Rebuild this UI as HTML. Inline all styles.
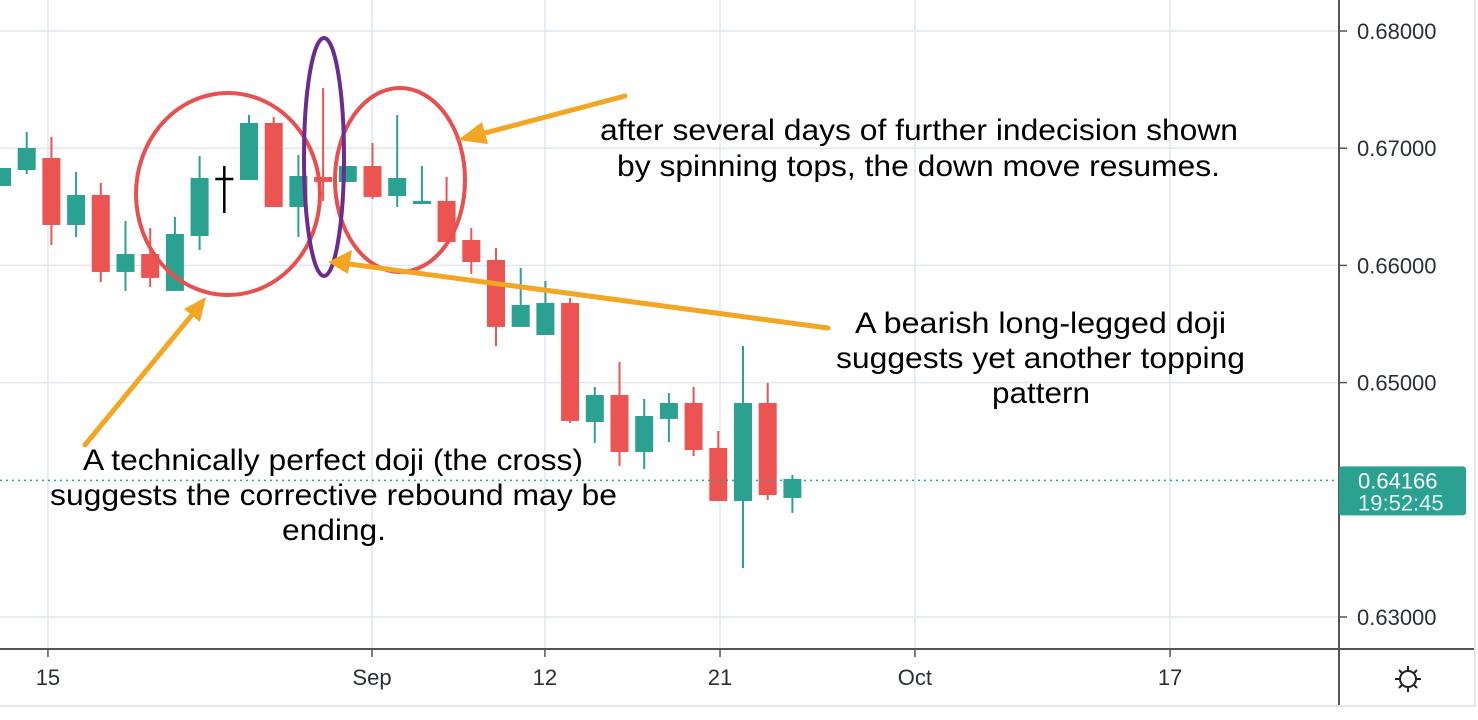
<!DOCTYPE html>
<html><head><meta charset="utf-8"><style>
html,body{margin:0;padding:0;background:#fff;}
svg{display:block;font-family:"Liberation Sans",Arial,sans-serif;}
</style></head><body>
<svg id="chart" width="1478" height="720" viewBox="0 0 1478 720" xmlns="http://www.w3.org/2000/svg">
<g id="grid"></g>
<g id="candles"></g>
<line id="lastline" x1="0" x2="1339" stroke="#26a69a" stroke-width="1.5" stroke-dasharray="2,4"/>
<g fill="none">
<ellipse cx="228" cy="194" rx="92" ry="101" stroke="#e8504f" stroke-width="4"/>
<ellipse cx="400" cy="180" rx="65" ry="92" stroke="#e8504f" stroke-width="4"/>
<ellipse cx="324" cy="157" rx="20" ry="119" stroke="#6a2c91" stroke-width="4"/>
<g stroke="#f2a623" stroke-width="5" stroke-linecap="round">
<line x1="625" y1="96" x2="470" y2="137"/>
<line x1="828" y1="328" x2="342" y2="263"/>
<line x1="85" y1="445" x2="196" y2="310"/>
</g>
<g fill="#f2a623">
<polygon points="458,140 482,122 488,144"/>
<polygon points="328,262 352,250 348,274"/>
<polygon points="206,297 200,322 184,309"/>
</g>
</g>
<g font-size="30" fill="#000" text-anchor="start">
<text x="600" y="140" textLength="638" lengthAdjust="spacingAndGlyphs">after several days of further indecision shown</text>
<text x="617" y="176" textLength="603" lengthAdjust="spacingAndGlyphs">by spinning tops, the down move resumes.</text>
<text x="855" y="333" textLength="371" lengthAdjust="spacingAndGlyphs">A bearish long-legged doji</text>
<text x="836" y="368" textLength="409" lengthAdjust="spacingAndGlyphs">suggests yet another topping</text>
<text x="992" y="403" textLength="98" lengthAdjust="spacingAndGlyphs">pattern</text>
<text x="83" y="470" textLength="500" lengthAdjust="spacingAndGlyphs">A technically perfect doji (the cross)</text>
<text x="50" y="505" textLength="567" lengthAdjust="spacingAndGlyphs">suggests the corrective rebound may be</text>
<text x="282" y="540" textLength="104" lengthAdjust="spacingAndGlyphs">ending.</text>
</g>
<line x1="1339" y1="0" x2="1339" y2="706" stroke="#555" stroke-width="2"/>
<line x1="0" y1="649" x2="1475" y2="649" stroke="#555" stroke-width="2"/>
<line x1="1475" y1="0" x2="1475" y2="706" stroke="#e4e6ea" stroke-width="2"/>
<line x1="0" y1="706" x2="1475" y2="706" stroke="#e4e6ea" stroke-width="2"/>
<g id="yaxis" font-size="22" fill="#2a2e39"></g>
<g id="xaxis" font-size="22" fill="#2a2e39" text-anchor="middle"></g>
<g id="pricetag"></g>
<g transform="translate(1408,679)" stroke="#222" stroke-width="2" fill="none">
<circle r="8"/>
<line x1="0" y1="-8" x2="0" y2="-13"/><line x1="0" y1="8" x2="0" y2="13"/>
<line x1="-8" y1="0" x2="-13" y2="0"/><line x1="8" y1="0" x2="13" y2="0"/>
<line x1="-6" y1="-6" x2="-9" y2="-9"/><line x1="6" y1="6" x2="9" y2="9"/>
<line x1="-6" y1="6" x2="-9" y2="9"/><line x1="6" y1="-6" x2="9" y2="-9"/>
</g>
</svg>
<script>
const opens  = [.66678,.66814,.66916,.66345,.66601,.65944,.66097,.65782,.66251,.66737,.66729,.67215,.66498,.66754,.66712,.66848,.66592,.66524,.6655,.66217,.66046,.65475,.65406,.65679,.64664,.64894,.64408,.6469,.64826,.64442,.6399,.64826,.64016];
const highs  = [.66831,.67138,.67096,.66797,.66703,.66379,.66319,.66413,.66933,.66848,.67283,.67266,.66942,.67514,.66848,.67044,.67283,.66848,.66754,.66319,.66149,.65978,.65867,.65722,.64963,.65176,.6486,.64911,.64963,.64587,.65312,.64997,.64212];
const lows   = [.66678,.6678,.66174,.66242,.65858,.65782,.65816,.65782,.66131,.66447,.66729,.66498,.66242,.6655,.66712,.66567,.66498,.66524,.662,.65927,.65312,.65475,.65406,.64655,.64485,.64289,.64263,.64493,.64374,.6399,.63418,.63999,.63888];
const closes = [.66831,.67002,.66345,.66601,.65944,.66097,.65893,.66268,.66746,.66737,.67215,.66498,.66763,.66712,.66848,.66584,.66746,.6655,.662,.66029,.65475,.65662,.65679,.64673,.64894,.64408,.64715,.64826,.64425,.6399,.64826,.64041,.64178];
const crossIndex = 9;
const priceTicks = [0.68,0.67,0.66,0.65,0.63];
const priceTickLabels = ["0.68000","0.67000","0.66000","0.65000","0.63000"];
const timeTickIdx = [1.86,14.98,21.98,29.07,36.96,47.29];
const timeTickLabels = ["15","Sep","12","21","Oct","17"];
const lastPrice = 0.64166;
const lastTime = "19:52:45";

const NS="http://www.w3.org/2000/svg";
function yS(p){return 31+(0.68-p)*11720;}
function xS(i){return 2+24.7*i;}
function mk(tag,attrs,parent){const e=document.createElementNS(NS,tag);for(const k in attrs)e.setAttribute(k,attrs[k]);parent.appendChild(e);return e;}
const grid=document.getElementById('grid'),cg=document.getElementById('candles'),ya=document.getElementById('yaxis'),xa=document.getElementById('xaxis');
priceTicks.forEach((p,k)=>{
  const l=mk('line',{x1:0,x2:1339,y1:yS(p),y2:yS(p),stroke:'#e1e7f0','stroke-width':1.5},grid);
  
  
  const t=mk('line',{x1:1339,x2:1347,y1:yS(p),y2:yS(p),stroke:'#555','stroke-width':1.5},ya);
  
  
  const tx=mk('text',{x:1357,y:yS(p)+8},ya);tx.textContent=priceTickLabels[k];
  
  
});
timeTickIdx.forEach((v,k)=>{
  const x=xS(v);
  const l=mk('line',{x1:x,x2:x,y1:0,y2:649,stroke:'#e1e7f0','stroke-width':1.5},grid);
  
  
  const t=mk('line',{x1:x,x2:x,y1:649,y2:657,stroke:'#555','stroke-width':1.5},xa);
  
  
  const tx=mk('text',{x:x,y:685},xa);tx.textContent=timeTickLabels[k];
  
  
});
opens.forEach((o,i)=>{
  const c=closes[i],x=xS(i);
  const g=mk('g',{},cg);
  
  
  if(i===crossIndex){
    mk('line',{x1:x,x2:x,y1:yS(highs[i]),y2:yS(lows[i]),stroke:'#000','stroke-width':2.5},g);
    mk('line',{x1:x-9,x2:x+9,y1:yS(o),y2:yS(o),stroke:'#000','stroke-width':2.5},g);
    return;
  }
  const col=c>=o?'#2ba192':'#ec5452';
  mk('line',{x1:x,x2:x,y1:yS(highs[i]),y2:yS(lows[i]),stroke:col,'stroke-width':2},g);
  const top=yS(Math.max(o,c)),bot=yS(Math.min(o,c));
  mk('rect',{x:x-9,y:top,width:18,height:Math.max(2.5,bot-top),fill:col},g);
});
const ly=yS(lastPrice);
const ll=document.getElementById('lastline');ll.setAttribute('y1',ly);ll.setAttribute('y2',ly);
const pt=document.getElementById('pricetag');
mk('rect',{x:1339,y:ly-14,width:127,height:49,rx:3,fill:'#2ba192'},pt);
const t1=mk('text',{x:1358,y:ly+8,fill:'#fff','font-size':22},pt);t1.textContent=lastPrice.toFixed(5);
const t2=mk('text',{x:1358,y:ly+30,fill:'#e6f4f2','font-size':22},pt);t2.textContent=lastTime;
</script>
</body></html>
